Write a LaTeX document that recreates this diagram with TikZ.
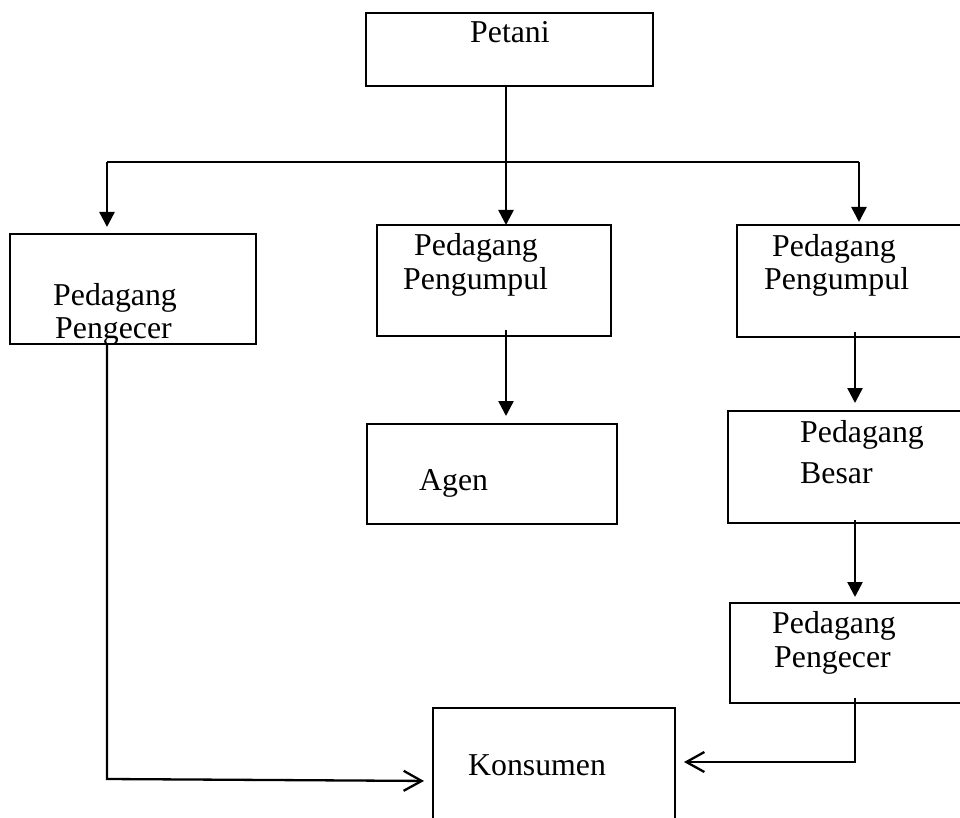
\documentclass[tikz,border=0pt]{standalone}
\usepackage{fontspec}
\setmainfont{Liberation Serif}
\usetikzlibrary{arrows.meta}
\newcommand\lbfont{\fontsize{31.8}{36}\selectfont}
\begin{document}
\begin{tikzpicture}[x=1pt,y=-1pt,
  box/.style={draw, line width=2.8pt, inner sep=0pt, outer sep=0pt, anchor=north west},
  lbl/.style={anchor=base west, inner sep=0pt, font=\lbfont},
  thinln/.style={line width=1.7pt},
  arr/.style={line width=2.5pt, -{Triangle[length=15pt,width=15pt]}},
  opn/.style={line width=2.3pt, -{Straight Barb[length=18pt,width=20pt,line width=2.3pt]}}]
\useasboundingbox (0,0) rectangle (960,818);
\fill[white] (0,0) rectangle (960,818);
\clip (0,0) rectangle (960,818);

% boxes
\node[box, minimum width=287pt, minimum height=73pt] (petani) at (366,13) {};
\node[box, minimum width=246pt, minimum height=110pt] (pe1) at (10,234) {};
\node[box, minimum width=234pt, minimum height=111pt] (pu1) at (377,225) {};
\node[box, minimum width=250pt, minimum height=112pt] (pu2) at (737,225) {};
\node[box, minimum width=250pt, minimum height=100pt] (agen) at (367,424) {};
\node[box, minimum width=260pt, minimum height=112pt] (besar) at (728,411) {};
\node[box, minimum width=260pt, minimum height=100pt] (pe2) at (730,603) {};
\node[box, minimum width=242pt, minimum height=140pt] (kons) at (433,708) {};

% texts
\node[lbl] (tpetani) at (470,43) {Petani};
\node[lbl] (tpe1a) at (53,305) {Pedagang};
\node[lbl] (tpe1b) at (55,338) {Pengecer};
\node[lbl] (tpu1a) at (414,255) {Pedagang};
\node[lbl] (tpu1b) at (403,289) {Pengumpul};
\node[lbl] (tpu2a) at (772,256) {Pedagang};
\node[lbl] (tpu2b) at (764,289) {Pengumpul};
\node[lbl] (tagen) at (419,490) {Agen};
\node[lbl] (tbesa) at (800,442) {Pedagang};
\node[lbl] (tbesb) at (800,483) {Besar};
\node[lbl] (tpe2a) at (772,633) {Pedagang};
\node[lbl] (tpe2b) at (774,667) {Pengecer};
\node[lbl] (tkons) at (468,775) {Konsumen};

% connectors
\coordinate (busL) at (107,162);
\coordinate (busM) at (506,162);
\coordinate (busR) at (859,162);
\coordinate (colR) at (855,0);
\coordinate (kr) at (855,762);
\coordinate (kl) at (107,779);

\draw[thinln] (busM |- petani.south) -- (busM);
\draw[thinln] (busL) -- (busR);
\draw[arr, shorten >=7pt] (busL) -- (busL |- pe1.north);
\draw[arr] (busM) -- (busM |- pu1.north);
\draw[arr, shorten >=3pt] (busR) -- (busR |- pu2.north);
\draw[arr, shorten >=8pt] ([yshift=6pt]busM |- pu1.south) -- (busM |- agen.north);
\draw[arr, shorten >=8pt] ([yshift=5pt]colR |- pu2.south) -- (colR |- besar.north);
\draw[arr, shorten >=6pt] ([yshift=3pt]colR |- besar.south) -- (colR |- pe2.north);
\draw[opn, shorten >=9pt] ([yshift=5pt]colR |- pe2.south) -- (kr) -- (kr -| kons.east);
\draw[opn, shorten >=9pt] (kl |- pe1.south) -- (kl) -- ([yshift=-2pt]kl -| kons.west);
\end{tikzpicture}
\end{document}
